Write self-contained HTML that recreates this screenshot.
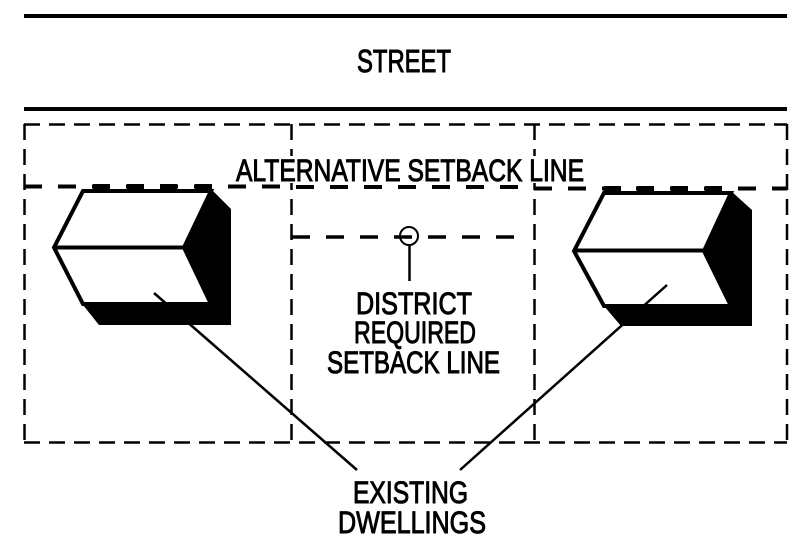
<!DOCTYPE html>
<html>
<head>
<meta charset="utf-8">
<style>
html,body{margin:0;padding:0;background:#fff;width:803px;height:550px;overflow:hidden}
svg{display:block}
text{font-family:"Liberation Sans",sans-serif;font-size:31px;fill:#000;text-anchor:start;stroke:#000;stroke-width:1px;text-rendering:geometricPrecision}
</style>
</head>
<body>
<svg width="803" height="550" viewBox="0 0 803 550" xmlns="http://www.w3.org/2000/svg">
<rect width="803" height="550" fill="#fff"/>
<!-- street lines -->
<rect x="24" y="14" width="763" height="4" fill="#000"/>
<rect x="24" y="107" width="763" height="4" fill="#000"/>
<text x="357" y="72" textLength="94" lengthAdjust="spacingAndGlyphs" style="font-size:32px">STREET</text>

<!-- thin dashed lot lines -->
<g fill="none" stroke="#000" stroke-width="2.500" stroke-dasharray="16 9">
<path d="M24 124.500H787"/>
<path d="M24 442.500H787"/>
<path d="M24.500 124V443"/>
<path d="M291.500 124V443"/>
<path d="M534.500 124V443"/>
<path d="M787 124V443"/>
</g>

<!-- alternative setback -->
<g fill="none" stroke="#000" stroke-width="4" stroke-dasharray="18 16">
<path d="M24 186.500H282"/>
<path d="M296 187H530"/>
<path d="M534 188.500H787"/>
</g>
<rect x="232" y="156" width="356" height="27" fill="#fff"/>
<text x="236" y="181" textLength="348" lengthAdjust="spacingAndGlyphs">ALTERNATIVE SETBACK LINE</text>

<!-- district setback -->
<path d="M292 237H530" fill="none" stroke="#000" stroke-width="3.500" stroke-dasharray="18 16"/>
<circle cx="409" cy="236" r="9" fill="none" stroke="#000" stroke-width="2"/>
<path d="M409.500 245V281" stroke="#000" stroke-width="2.500" fill="none"/>
<text x="356" y="314" textLength="116" lengthAdjust="spacingAndGlyphs">DISTRICT</text>
<text x="354" y="343" textLength="122" lengthAdjust="spacingAndGlyphs">REQUIRED</text>
<text x="327" y="373" textLength="173" lengthAdjust="spacingAndGlyphs">SETBACK LINE</text>

<!-- left dwelling -->
<path d="M83 191H211L184 247.500L211 304H83L54 247.500Z" fill="#fff" stroke="#000" stroke-width="4"/>
<path d="M54 247.500H184" stroke="#000" stroke-width="4"/>
<path d="M211 189L231 209V325H99L83 305H211L184 247.500Z" fill="#000"/>
<path d="M83 191H211" stroke="#000" stroke-width="4"/>
<path d="M93 184h17v5H93zM127 184h17v5h-17zM160 184h17v5h-17zM195 184h17v5h-17z" fill="#000"/>

<!-- right dwelling -->
<path d="M604 193H731L704 251L731 306H604L574 251Z" fill="#fff" stroke="#000" stroke-width="4"/>
<path d="M574 250.500H704" stroke="#000" stroke-width="4"/>
<path d="M731 191L752 210V326H621L604 306H731L704 251Z" fill="#000"/>
<path d="M604 193H731" stroke="#000" stroke-width="4"/>
<path d="M604 186h17v5h-17zM637 186h17v5h-17zM671 186h17v5h-17zM705 186h17v5h-17z" fill="#000"/>

<!-- leader lines -->
<path d="M154 293L357 470" stroke="#000" stroke-width="2.500" fill="none"/>
<path d="M667 285L460 470" stroke="#000" stroke-width="2.500" fill="none"/>

<text x="353" y="503" textLength="115" lengthAdjust="spacingAndGlyphs">EXISTING</text>
<text x="338" y="533" textLength="148" lengthAdjust="spacingAndGlyphs">DWELLINGS</text>
</svg>
</body>
</html>
